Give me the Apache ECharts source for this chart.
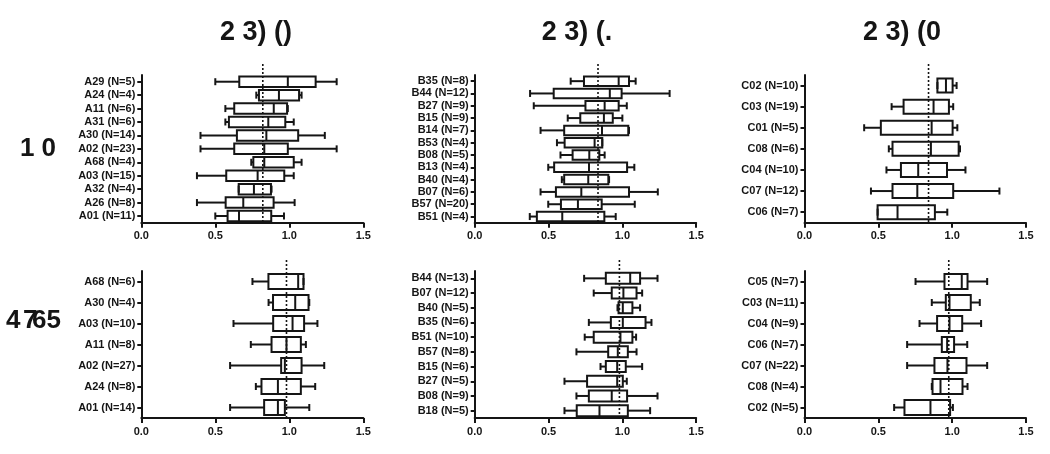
<!DOCTYPE html>
<html><head><meta charset="utf-8">
<script src="https://cdn.jsdelivr.net/npm/echarts@6/dist/echarts.min.js"></script>
<style>html,body{margin:0;padding:0;background:#fff}#c{width:1050px;height:454px}</style>
</head><body><div id="c"></div>
<script>
// ---------- DATA ----------
const titles = ['2 3) ()', '2 3) (.', '2 3) (0'];
const rowLabelTop = '1 0';
const rowLabelBottom = ['4', '7', '65'];
const xTicks = [0, 0.5, 1.0, 1.5];

// each value row: [min, Q1, median, Q3, max]
const catsA1 = ['A29 (N=5)','A24 (N=4)','A11 (N=6)','A31 (N=6)','A30 (N=14)','A02 (N=23)','A68 (N=4)','A03 (N=15)','A32 (N=4)','A26 (N=8)','A01 (N=11)'];
const valsA1 = [[0.50,0.662,0.99,1.178,1.32],[0.777,0.795,0.93,1.066,1.083],[0.568,0.628,0.895,0.985,0.99],[0.568,0.592,0.858,0.973,1.03],[0.40,0.646,0.845,1.06,1.24],[0.40,0.628,0.831,0.99,1.32],[0.743,0.757,0.831,1.03,1.083],[0.376,0.574,0.786,0.966,1.03],[0.658,0.658,0.761,0.876,0.88],[0.376,0.57,0.689,0.894,1.036],[0.50,0.583,0.66,0.878,0.964]];
const refA1 = 0.821;

const catsB1 = ['B35 (N=8)','B44 (N=12)','B27 (N=9)','B15 (N=9)','B14 (N=7)','B53 (N=4)','B08 (N=5)','B13 (N=4)','B40 (N=4)','B07 (N=6)','B57 (N=20)','B51 (N=4)'];
const valsB1 = [[0.65,0.74,0.975,1.045,1.09],[0.375,0.535,0.915,0.995,1.32],[0.40,0.75,0.88,0.975,1.03],[0.63,0.715,0.875,0.935,1.00],[0.446,0.606,0.862,1.04,1.045],[0.557,0.609,0.812,0.864,0.864],[0.581,0.663,0.776,0.844,0.88],[0.498,0.538,0.774,1.032,1.081],[0.59,0.606,0.769,0.905,0.91],[0.446,0.55,0.722,1.045,1.24],[0.498,0.584,0.699,0.86,1.084],[0.373,0.421,0.593,0.878,0.955]];
const refB1 = 0.835;

const catsC1 = ['C02 (N=10)','C03 (N=19)','C01 (N=5)','C08 (N=6)','C04 (N=10)','C07 (N=12)','C06 (N=7)'];
const valsC1 = [[0.90,0.90,0.958,1.003,1.03],[0.59,0.671,0.874,0.978,1.007],[0.404,0.517,0.861,1.003,1.035],[0.571,0.596,0.856,1.044,1.053],[0.555,0.653,0.77,0.965,1.09],[0.45,0.596,0.764,1.007,1.32],[0.495,0.495,0.63,0.883,0.967]];
const refC1 = 0.84;

const catsA2 = ['A68 (N=6)','A30 (N=4)','A03 (N=10)','A11 (N=8)','A02 (N=27)','A24 (N=8)','A01 (N=14)'];
const valsA2 = [[0.751,0.859,1.06,1.096,1.096],[0.86,0.89,1.04,1.13,1.135],[0.623,0.891,1.022,1.10,1.19],[0.74,0.88,0.981,1.078,1.112],[0.60,0.945,0.97,1.083,1.236],[0.774,0.812,0.923,1.078,1.175],[0.60,0.83,0.923,0.97,1.135]];
const refA2 = 0.981;

const catsB2 = ['B44 (N=13)','B07 (N=12)','B40 (N=5)','B35 (N=6)','B51 (N=10)','B57 (N=8)','B15 (N=6)','B27 (N=5)','B08 (N=9)','B18 (N=5)'];
const valsB2 = [[0.741,0.888,1.053,1.12,1.238],[0.806,0.928,1.007,1.096,1.134],[0.967,0.974,1.003,1.068,1.12],[0.773,0.922,1.003,1.157,1.197],[0.745,0.806,0.987,1.068,1.093],[0.689,0.904,0.969,1.037,1.096],[0.852,0.888,0.965,1.023,1.134],[0.608,0.761,0.965,1.003,1.03],[0.689,0.773,0.928,1.032,1.238],[0.608,0.691,0.845,1.037,1.188]];
const refB2 = 0.98;

const catsC2 = ['C05 (N=7)','C03 (N=11)','C04 (N=9)','C06 (N=7)','C07 (N=22)','C08 (N=4)','C02 (N=5)'];
const valsC2 = [[0.752,0.948,1.065,1.104,1.237],[0.862,0.957,0.982,1.126,1.187],[0.779,0.898,0.982,1.068,1.196],[0.695,0.93,0.966,1.013,1.102],[0.695,0.88,0.968,1.097,1.237],[0.862,0.867,0.921,1.07,1.104],[0.607,0.677,0.853,0.986,1.005]];
const refC2 = 0.977;

// ---------- LAYOUT ----------
const FONT = '"Liberation Sans", Arial, Helvetica, sans-serif';
const INK = '#151515';
const panels = [
  {cats: catsA1, vals: valsA1, ref: refA1, grid: {left: 141.3, top: 75, width: 222, height: 147.7}, boxH: 10.5},
  {cats: catsB1, vals: valsB1, ref: refB1, grid: {left: 474.7, top: 75, width: 221.5, height: 147.7}, boxH: 9.5},
  {cats: catsC1, vals: valsC1, ref: refC1, grid: {left: 804.5, top: 75, width: 221.5, height: 147.7}, boxH: 14},
  {cats: catsA2, vals: valsA2, ref: refA2, grid: {left: 141.3, top: 271, width: 222, height: 147}, boxH: 15},
  {cats: catsB2, vals: valsB2, ref: refB2, grid: {left: 474.7, top: 271, width: 221.5, height: 147}, boxH: 11},
  {cats: catsC2, vals: valsC2, ref: refC2, grid: {left: 804.5, top: 271, width: 221.5, height: 147}, boxH: 15}
];

function boxRender(boxH, capH) {
  return function (params, api) {
    const yi = api.value(0);
    const p = k => api.coord([api.value(k), yi]);
    const pMin = p(1), pQ1 = p(2), pMed = p(3), pQ3 = p(4), pMax = p(5);
    const y = pMin[1], h = boxH / 2, c = capH / 2;
    const st = {stroke: INK, lineWidth: 2, fill: null};
    return {type: 'group', children: [
      {type: 'line', shape: {x1: pMin[0], y1: y, x2: pQ1[0], y2: y}, style: st},
      {type: 'line', shape: {x1: pQ3[0], y1: y, x2: pMax[0], y2: y}, style: st},
      {type: 'line', shape: {x1: pMin[0], y1: y - c, x2: pMin[0], y2: y + c}, style: st},
      {type: 'line', shape: {x1: pMax[0], y1: y - c, x2: pMax[0], y2: y + c}, style: st},
      {type: 'rect', shape: {x: pQ1[0], y: y - h, width: pQ3[0] - pQ1[0], height: 2 * h}, style: {stroke: INK, lineWidth: 2, fill: 'rgba(0,0,0,0)'}},
      {type: 'line', shape: {x1: pMed[0], y1: y - h, x2: pMed[0], y2: y + h}, style: st}
    ]};
  };
}
function refRender(params, api) {
  const x = api.coord([api.value(0), 0])[0];
  const cs = params.coordSys;
  return {type: 'line', shape: {x1: x, y1: cs.y - 11, x2: x, y2: cs.y + cs.height},
    style: {stroke: INK, lineWidth: 1.6, lineDash: [2, 2]}};
}

const grids = [], xAxes = [], yAxes = [], series = [];
panels.forEach((pn, i) => {
  grids.push(Object.assign({containLabel: false}, pn.grid));
  xAxes.push({
    type: 'value', gridIndex: i, min: xTicks[0], max: xTicks[xTicks.length - 1], interval: 0.5,
    axisLine: {show: true, lineStyle: {color: INK, width: 2}},
    axisTick: {show: true, length: 5, lineStyle: {color: INK, width: 2}},
    axisLabel: {color: INK, fontFamily: FONT, fontWeight: 'bold', fontSize: 11, margin: 8, formatter: v => v.toFixed(1)},
    splitLine: {show: false}
  });
  yAxes.push({
    type: 'category', gridIndex: i, data: pn.cats, inverse: true,
    axisLine: {show: true, lineStyle: {color: INK, width: 2}},
    axisTick: {show: true, length: 4, alignWithLabel: true, interval: 0, lineStyle: {color: INK, width: 2}},
    axisLabel: {color: INK, fontFamily: FONT, fontWeight: 'bold', fontSize: 11, margin: 6, interval: 0, hideOverlap: false},
    splitLine: {show: false}
  });
  series.push({
    type: 'custom', xAxisIndex: i, yAxisIndex: i, clip: false,
    renderItem: boxRender(pn.boxH, 7),
    encode: {x: [1, 2, 3, 4, 5], y: 0},
    data: pn.vals.map((v, k) => [k].concat(v)),
    z: 2
  });
  series.push({
    type: 'custom', xAxisIndex: i, yAxisIndex: i, clip: false,
    renderItem: refRender, encode: {x: 0},
    data: [[pn.ref]], z: 3
  });
});

const txt = (t, x, y, size, align) => ({type: 'text', x: x, y: y,
  style: {text: t, fill: INK, font: 'bold ' + size + 'px ' + FONT, align: align || 'center', verticalAlign: 'middle'}});
const graphics = [
  txt(titles[0], 256, 33, 27),
  txt(titles[1], 577, 33, 27),
  txt(titles[2], 902, 33, 27),
  txt(rowLabelTop, 38, 149, 26),
  txt(rowLabelBottom[0], 6, 321, 26, 'left'),
  txt(rowLabelBottom[1], 23, 321, 26, 'left'),
  txt(rowLabelBottom[2], 32, 321, 26, 'left')
];

const chart = echarts.init(document.getElementById('c'), null, {renderer: 'canvas'});
chart.setOption({
  animation: false,
  backgroundColor: '#fff',
  grid: grids, xAxis: xAxes, yAxis: yAxes, series: series,
  graphic: graphics
});
</script></body></html>
